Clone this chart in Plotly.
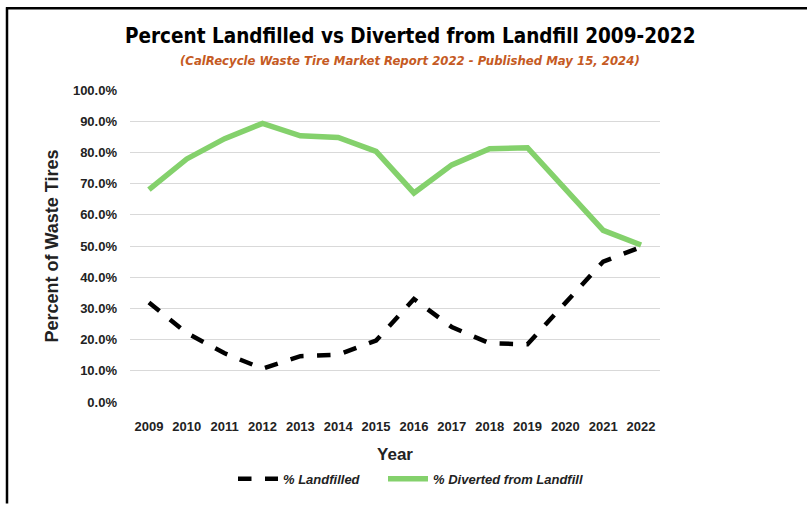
import plotly.graph_objects as go

years = ["2009", "2010", "2011", "2012", "2013", "2014", "2015", "2016", "2017", "2018", "2019", "2020", "2021", "2022"]
diverted = [68.1, 77.9, 84.4, 89.3, 85.3, 84.8, 80.3, 67.0, 76.0, 81.2, 81.5, 68.0, 55.0, 50.3]
landfilled = [31.9, 22.1, 15.6, 10.7, 14.7, 15.2, 19.7, 33.0, 24.0, 18.8, 18.5, 32.0, 45.0, 49.7]
yticks = [0, 10, 20, 30, 40, 50, 60, 70, 80, 90, 100]

W, H = 807, 506
L, R, T, B = 130, 660, 90, 407

def px(x):
    return (x - L) / (R - L)

def py(y):
    return (B - y) / (B - T)

NARROW = "Liberation Sans Narrow, DejaVu Sans Condensed, Roboto Condensed, Arial Narrow, sans-serif"
legfont = dict(family="Liberation Sans", size=13, color="#222", style="italic", weight="bold")

fig = go.Figure()
fig.add_trace(go.Scatter(x=years, y=landfilled, mode="lines", name="% Landfilled",
                         line=dict(color="black", width=4.5, dash="dash"), legend="legend"))
fig.add_trace(go.Scatter(x=years, y=diverted, mode="lines", name="% Diverted from Landfill",
                         line=dict(color="#84D16C", width=5.5), legend="legend2"))

tickfont = dict(family="Liberation Sans", size=13, color="#222", weight="bold")

fig.update_layout(
    width=W, height=H,
    margin=dict(l=L, r=W - R, t=T, b=H - B),
    paper_bgcolor="white", plot_bgcolor="white",
    showlegend=True,
    legend=dict(orientation="h", x=px(233), xanchor="left", y=py(485), yanchor="middle",
                font=legfont, itemwidth=40, bgcolor="rgba(0,0,0,0)"),
    legend2=dict(orientation="h", x=px(383), xanchor="left", y=py(485), yanchor="middle",
                 font=legfont, itemwidth=40, bgcolor="rgba(0,0,0,0)"),
    xaxis=dict(type="category", range=[-0.5, 13.5], showgrid=False, showline=False, ticks="",
               tickfont=tickfont, ticklabelstandoff=15,
               title=dict(text="Year", font=dict(family="Liberation Sans", size=17, color="#222", weight="bold"), standoff=15)),
    yaxis=dict(range=[0, 100], tickvals=yticks, ticktext=[f"{v:.1f}%" for v in yticks],
               showgrid=True, gridcolor="#D9D9D9", gridwidth=1, zeroline=False,
               showline=False, ticks="", tickfont=tickfont, ticklabelstandoff=12,
               title=dict(text="Percent of Waste Tires", font=dict(family="Liberation Sans", size=18, color="#222", weight="bold"), standoff=9)),
    annotations=[
        dict(text="<b>Percent Landfilled vs Diverted from Landfill 2009-2022</b>",
             x=px(410), y=py(35), xref="paper", yref="paper", showarrow=False,
             xanchor="center", yanchor="middle",
             font=dict(family=NARROW, size=20.5, color="black")),
        dict(text="<b><i>(CalRecycle Waste Tire Market Report 2022 - Published May 15, 2024)</i></b>",
             x=px(410), y=py(60), xref="paper", yref="paper", showarrow=False,
             xanchor="center", yanchor="middle",
             font=dict(family=NARROW, size=13, color="#C55A23")),
    ],
    shapes=[
        dict(type="line", xref="paper", yref="paper", x0=px(7), x1=px(7), y0=py(6), y1=py(510),
             line=dict(color="black", width=2.5)),
        dict(type="line", xref="paper", yref="paper", x0=px(6), x1=px(810), y0=py(7), y1=py(7),
             line=dict(color="black", width=2.5)),
    ],
)

fig.write_html("out.html")
